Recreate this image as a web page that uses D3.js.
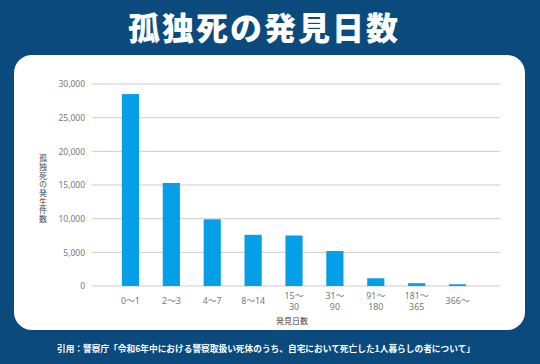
<!DOCTYPE html>
<html>
<head>
<meta charset="utf-8">
<script src="https://cdn.jsdelivr.net/npm/d3@7"></script>
<style>
  html, body { margin: 0; padding: 0; background: #0b4a7d; }
  svg { display: block; }
  text { font-family: "Noto Sans CJK JP", "Noto Sans", sans-serif; }
</style>
</head>
<body>
<svg id="chart" width="540" height="364"></svg>
<script>
// data
var categories = [['0〜1'], ['2〜3'], ['4〜7'], ['8〜14'], ['15〜', '30'], ['31〜', '90'], ['91〜', '180'], ['181〜', '365'], ['366〜']];
var counts = [28500, 15300, 9900, 7600, 7500, 5200, 1150, 420, 260];
var yTicks = [0, 5000, 10000, 15000, 20000, 25000, 30000];

var title = '孤独死の発見日数';
var yTitle = '孤独死の発生件数';
var xTitle = '発見日数';
var source = '引用：警察庁「令和6年中における警察取扱い死体のうち、自宅において死亡した1人暮らしの者について」';

(function drawChart () {
  'use strict';

  var svg = d3.select('#chart');
  var gridLeft = 92;
  var gridRight = 500;

  svg.append('rect')
    .attr('width', 540)
    .attr('height', 364)
    .attr('fill', '#0b4a7d');

  // white panel
  svg.append('rect')
    .attr('x', 14)
    .attr('y', 55)
    .attr('width', 511)
    .attr('height', 275)
    .attr('rx', 18)
    .attr('fill', '#ffffff');

  svg.append('text')
    .attr('x', 264)
    .attr('y', 40)
    .attr('text-anchor', 'middle')
    .attr('fill', '#ffffff')
    .attr('font-size', 32)
    .attr('font-weight', 900)
    .attr('letter-spacing', 2)
    .text(title);

  var xScale = d3.scaleBand()
    .domain(d3.range(categories.length))
    .range([110, 478])
    .paddingInner(0.58)
    .paddingOuter(0.29);

  var yScale = d3.scaleLinear()
    .domain([0, 30000])
    .range([286, 84]);

  // grid lines
  svg.append('g')
    .selectAll('line')
    .data(yTicks)
    .enter()
    .append('line')
    .attr('x1', gridLeft)
    .attr('x2', gridRight)
    .attr('y1', function (d) { return yScale(d); })
    .attr('y2', function (d) { return yScale(d); })
    .attr('stroke', '#cccccc')
    .attr('stroke-width', 1);

  // y axis labels
  var yAxis = d3.axisLeft(yScale)
    .tickValues(yTicks)
    .tickSize(0)
    .tickPadding(0)
    .tickFormat(d3.format(','));

  svg.append('g')
    .attr('transform', 'translate(85,0)')
    .call(yAxis)
    .call(function (g) { g.select('.domain').remove(); })
    .selectAll('text')
    .attr('fill', '#777777')
    .attr('font-size', 8.5)
    .style('font-family', '"Noto Sans", sans-serif');

  // bars
  svg.append('g')
    .selectAll('rect')
    .data(counts)
    .enter()
    .append('rect')
    .attr('x', function (d, i) { return xScale(i); })
    .attr('y', function (d) { return yScale(d); })
    .attr('width', xScale.bandwidth())
    .attr('height', function (d) { return yScale(0) - yScale(d); })
    .attr('fill', '#049fe6');

  // x labels, one text per line
  var labelLines = [];
  categories.forEach(function (lines, i) {
    var top = lines.length > 1 ? 299 : 304;
    lines.forEach(function (line, j) {
      labelLines.push({ text: line, x: xScale(i) + xScale.bandwidth() / 2, y: top + j * 10.5 });
    });
  });

  svg.append('g')
    .selectAll('text')
    .data(labelLines)
    .enter()
    .append('text')
    .attr('x', function (d) { return d.x; })
    .attr('y', function (d) { return d.y; })
    .attr('text-anchor', 'middle')
    .attr('fill', '#777777')
    .attr('font-size', 8.8)
    .style('font-family', '"Noto Sans", "Noto Sans CJK JP", sans-serif')
    .text(function (d) { return d.text; });

  svg.append('text')
    .attr('x', 292)
    .attr('y', 324)
    .attr('text-anchor', 'middle')
    .attr('fill', '#444444')
    .attr('font-size', 8)
    .text(xTitle);

  // vertical y title
  svg.append('text')
    .attr('x', 43)
    .attr('y', 189)
    .attr('text-anchor', 'middle')
    .attr('fill', '#444444')
    .attr('font-size', 8)
    .attr('letter-spacing', 0.7)
    .style('writing-mode', 'vertical-rl')
    .text(yTitle);

  svg.append('text')
    .attr('x', 266)
    .attr('y', 351.5)
    .attr('text-anchor', 'middle')
    .attr('fill', '#ffffff')
    .attr('font-size', 8.7)
    .attr('font-weight', 700)
    .text(source);
})();
</script>
</body>
</html>
